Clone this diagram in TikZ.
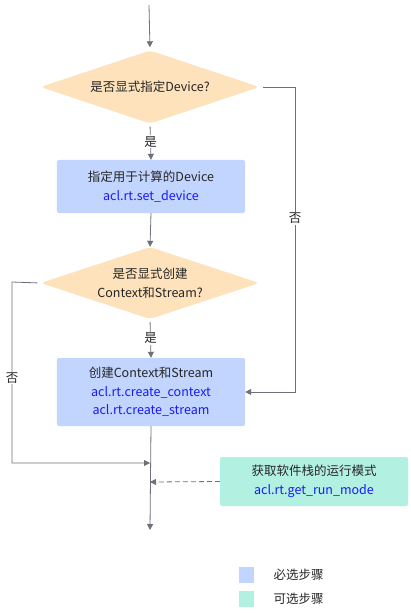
\documentclass[tikz,border=0pt]{standalone}
\usepackage{fontspec}
\setmainfont{Noto Sans CJK SC}
\usetikzlibrary{shapes.geometric,arrows.meta}
\definecolor{lineg}{RGB}{110,112,121}
\definecolor{decfill}{RGB}{253,226,187}
\definecolor{reqfill}{RGB}{194,213,254}
\definecolor{optfill}{RGB}{178,240,226}
\definecolor{apiblue}{RGB}{25,25,255}
\tikzset{
  x=1bp, y=-1bp,
  every node/.style={font=\fontsize{12.5bp}{18.5bp}\selectfont, text=black!85},
  decision/.style={diamond, aspect=3, fill=decfill, rounded corners=4bp, inner sep=0pt, minimum width=219bp, minimum height=73bp, align=center},
  reqbox/.style={rectangle, fill=reqfill, rounded corners=2bp, minimum width=188bp, align=center, inner sep=0pt},
  optbox/.style={rectangle, fill=optfill, rounded corners=2bp, minimum width=188bp, align=center, inner sep=0pt},
  conn/.style={draw=lineg, line width=0.8bp, -{Triangle[length=6bp,width=6bp]}},
  lbl/.style={fill=white, inner sep=1bp},
  api/.style={text=apiblue},
  legsq/.style={minimum width=15bp, minimum height=16bp, inner sep=0pt}
}
\begin{document}
\begin{tikzpicture}
\useasboundingbox (0,0) rectangle (410,613);
\coordinate (start) at (149,5);
\node[decision] (d1) at (150,87) {是否显式指定Device?};
\node[reqbox, minimum height=53bp] (b1) at (151,186.5) {指定用于计算的Device\\\textcolor{apiblue}{acl.rt.set\_device}};
\node[decision, minimum height=72bp] (d2) at (150,283) {是否显式创建\\Context和Stream?};
\node[reqbox, minimum height=68bp] (b2) at (151,392) {创建Context和Stream\\\textcolor{apiblue}{acl.rt.create\_context}\\\textcolor{apiblue}{acl.rt.create\_stream}};
\node[optbox, minimum height=49bp] (b3) at (314,481.5) {获取软件栈的运行模式\\\textcolor{apiblue}{acl.rt.get\_run\_mode}};
\coordinate (j1) at (150,463);
\coordinate (j2) at (150,482);
\coordinate (end) at (150,530);
\coordinate (r1) at (295,87);
\coordinate (r2) at (295,392);
\coordinate (l1) at (12,282);
\coordinate (l2) at (12,463);

\draw[conn, shorten >=3bp] (start) -- (d1.north);
\draw[conn, shorten <=3bp] (d1.south) -- node[lbl, pos=0.5] {是} (b1.north);
\draw[conn, shorten <=3bp] (d1.east) -- (r1) -- node[lbl, pos=0.43] {否} (r2) -- (b2.east);
\draw[conn] (b1.south) -- (d2.north);
\draw[conn, shorten <=3bp] (d2.south) -- node[lbl, pos=0.5] {是} (b2.north);
\draw[conn, shorten <=3bp] (d2.west) -- (l1) -- node[lbl, pos=0.53] {否} (l2) -- (j1);
\draw[conn] (b2.south) -- (end);
\draw[conn, dashed, dash pattern=on 5bp off 3bp] (b3.west) -- (j2);

\node[legsq, fill=reqfill] (lg1) at (246.5,575) {};
\node[anchor=west] (lt1) at (270,575) {必选步骤};
\node[legsq, fill=optfill] (lg2) at (246.5,598.5) {};
\node[anchor=west] (lt2) at (270,598.5) {可选步骤};
\end{tikzpicture}
\end{document}
